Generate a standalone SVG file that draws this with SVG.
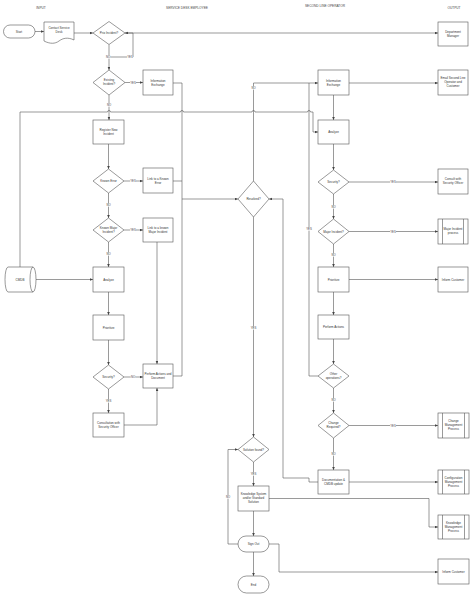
<svg xmlns="http://www.w3.org/2000/svg" width="470" height="614" viewBox="0 0 470 614">
<style>
.s{fill:#fff;stroke:#555;stroke-width:0.6}
.c{fill:none;stroke:#555;stroke-width:0.6}
.t{font-family:"Liberation Sans",Arial,sans-serif;font-size:3px;fill:#333;text-anchor:middle}
.l{font-family:"Liberation Sans",Arial,sans-serif;font-size:2.8px;fill:#444;text-anchor:middle}
.b{fill:#fff}
.h{font-family:"Liberation Sans",Arial,sans-serif;font-size:3.2px;fill:#444;text-anchor:middle}
</style>
<defs>
<marker id="a" markerUnits="userSpaceOnUse" markerWidth="3" markerHeight="3" refX="3" refY="1.3" orient="auto">
<path d="M0,0 L3,1.3 L0,2.6 Z" fill="#444"/>
</marker>
</defs>
<rect width="470" height="614" fill="#fff"/>
<text class="h" x="41" y="9">INPUT</text>
<text class="h" x="187" y="9">SERVICE DESK EMPLOYEE</text>
<text class="h" x="325" y="7">SECOND LINE OPERATOR</text>
<text class="h" x="454" y="9">OUTPUT</text>

<g id="connectors" class="c" marker-end="url(#a)">
<path d="M35,31.5 H44"/>
<path d="M74,33 H93"/>
<path d="M125,33 H438"/>
<path d="M109,57 H133 V33 H125"/>
<path d="M109,44.5 V70"/>
<path d="M125,82.5 H143"/>
<path d="M109,95 V120"/>
<path d="M108.5,144 V169"/>
<path d="M124,181 H143"/>
<path d="M108.5,193 V218"/>
<path d="M124,230 H143"/>
<path d="M108.5,242 V267"/>
<path d="M36,279.5 H93"/>
<path d="M108.5,292 V315"/>
<path d="M108.5,340 V365"/>
<path d="M124,377 H143"/>
<path d="M108.5,389 V413"/>
<path d="M124,425 H157 V388"/>
<path d="M157,242 V364"/>
<path d="M173,83 H182 V199 H238"/>
<path d="M173,181 H182" marker-end="none"/>
<path d="M173,376 H182 V199" marker-end="none"/>
<path d="M20,267 V112 H107.5 A1.5,1.5 0 0 1 110.5,112 H180.5 A1.5,1.5 0 0 1 183.5,112 H252 A1.5,1.5 0 0 1 255,112 H307.5 A1.5,1.5 0 0 1 310.5,112 H313 V132 H318"/>
<path d="M253.5,181 V83 H318"/>
<path d="M318,376 H309 V83" marker-end="none"/>
<path d="M349,83 H438"/>
<path d="M333.5,95 V120"/>
<path d="M333.5,144 V170"/>
<path d="M349,182 H438"/>
<path d="M333.5,194 V219"/>
<path d="M349,231.5 H438"/>
<path d="M333.5,244 V267"/>
<path d="M349,279.5 H438"/>
<path d="M333.5,292 V315"/>
<path d="M333.5,339 V364"/>
<path d="M333.5,388 V413"/>
<path d="M349,425.5 H438"/>
<path d="M333.5,438 V470"/>
<path d="M349,482 H438"/>
<path d="M318,482 H309 V478 H283 V199 H269"/>
<path d="M253.5,217 V437"/>
<path d="M253.5,462 V486"/>
<path d="M238,544 H228 V449.5 H238"/>
<path d="M269,498.5 H429 V527 H438"/>
<path d="M253.5,511 V536"/>
<path d="M269,544 H279 V572 H438"/>
<path d="M253.5,552 V576"/>
</g>
<g id="labels">
<rect class="b" x="105.7" y="55.4" width="4.6" height="3.2"/><text class="l" x="108" y="58">NO</text>
<rect class="b" x="127" y="55.4" width="6" height="3.2"/><text class="l" x="130" y="58">YES</text>
<rect class="b" x="130" y="80.9" width="6" height="3.2"/><text class="l" x="133" y="83.5">YES</text>
<rect class="b" x="106.7" y="103.4" width="4.6" height="3.2"/><text class="l" x="109" y="106">NO</text>
<rect class="b" x="130" y="179.4" width="6" height="3.2"/><text class="l" x="133" y="182">YES</text>
<rect class="b" x="106.2" y="203.4" width="4.6" height="3.2"/><text class="l" x="108.5" y="206">NO</text>
<rect class="b" x="130" y="228.4" width="6" height="3.2"/><text class="l" x="133" y="231">YES</text>
<rect class="b" x="106.2" y="252.4" width="4.6" height="3.2"/><text class="l" x="108.5" y="255">NO</text>
<rect class="b" x="130.7" y="375.4" width="4.6" height="3.2"/><text class="l" x="133" y="378">NO</text>
<rect class="b" x="105.5" y="399.4" width="6" height="3.2"/><text class="l" x="108.5" y="402">YES</text>
<rect class="b" x="251.2" y="86.4" width="4.6" height="3.2"/><text class="l" x="253.5" y="89">NO</text>
<rect class="b" x="306" y="227.4" width="6" height="3.2"/><text class="l" x="309" y="230">YES</text>
<rect class="b" x="390" y="180.4" width="6" height="3.2"/><text class="l" x="393" y="183">YES</text>
<rect class="b" x="331.2" y="205.4" width="4.6" height="3.2"/><text class="l" x="333.5" y="208">NO</text>
<rect class="b" x="390" y="229.9" width="6" height="3.2"/><text class="l" x="393" y="232.5">YES</text>
<rect class="b" x="331.2" y="253.4" width="4.6" height="3.2"/><text class="l" x="333.5" y="256">NO</text>
<rect class="b" x="331.2" y="398.4" width="4.6" height="3.2"/><text class="l" x="333.5" y="401">NO</text>
<rect class="b" x="390" y="423.9" width="6" height="3.2"/><text class="l" x="393" y="426.5">YES</text>
<rect class="b" x="331.2" y="452.4" width="4.6" height="3.2"/><text class="l" x="333.5" y="455">NO</text>
<rect class="b" x="250.5" y="326.4" width="6" height="3.2"/><text class="l" x="253.5" y="329">YES</text>
<rect class="b" x="250.5" y="472.4" width="6" height="3.2"/><text class="l" x="253.5" y="475">YES</text>
<rect class="b" x="225.7" y="495.4" width="4.6" height="3.2"/><text class="l" x="228" y="498">NO</text>
</g>

<g id="start"><rect class="s" x="3.5" y="25" width="31.5" height="13" rx="6.5"/><text class="t" x="19" y="32.5">Start</text></g>
<g id="contact"><path class="s" d="M44,22 H74 V40 C68,37 63,38 59,41 C55,44 50,44 44,41 Z"/><text class="t" x="59" y="29">Contact Service</text><text class="t" x="59" y="33">Desk</text></g>
<g id="prio"><polygon class="s" points="109,21.5 125,33 109,44.5 93,33"/><text class="t" x="109" y="34">Prio Incident?</text></g>
<g id="existing"><polygon class="s" points="109,70 125,82.5 109,95 93,82.5"/><text class="t" x="109" y="81">Existing</text><text class="t" x="109" y="85">Incident?</text></g>
<g id="infoSDE"><rect class="s" x="143" y="70" width="30" height="25"/><text class="t" x="158" y="81.5">Information</text><text class="t" x="158" y="85.5">Exchange</text></g>
<g id="register"><rect class="s" x="93" y="120" width="31" height="24"/><text class="t" x="108.5" y="130.5">Register New</text><text class="t" x="108.5" y="134.5">Incident</text></g>
<g id="knownError"><polygon class="s" points="108.5,169 124,181 108.5,193 93,181"/><text class="t" x="108.5" y="182">Known Error</text></g>
<g id="linkKE"><rect class="s" x="143" y="168" width="30" height="25"/><text class="t" x="158" y="179.5">Link to a Known</text><text class="t" x="158" y="183.5">Error</text></g>
<g id="knownMajor"><polygon class="s" points="108.5,218 124,230 108.5,242 93,230"/><text class="t" x="108.5" y="228.5">Known Major</text><text class="t" x="108.5" y="232.5">Incident?</text></g>
<g id="linkKMI"><rect class="s" x="143" y="218" width="30" height="24"/><text class="t" x="158" y="228.5">Link to a known</text><text class="t" x="158" y="232.5">Major Incident</text></g>
<g id="cmdb"><path class="s" d="M8,267 H33 A3,12.5 0 0 1 33,292 H8 A3,12.5 0 0 1 8,267 Z"/><path class="c" d="M33,267 A3,12.5 0 0 0 33,292"/><text class="t" x="20" y="280.5">CMDB</text></g>
<g id="analyzeSDE"><rect class="s" x="93" y="267" width="31" height="25"/><text class="t" x="108.5" y="280.5">Analyze</text></g>
<g id="prioritizeSDE"><rect class="s" x="93" y="315" width="31" height="25"/><text class="t" x="108.5" y="328.5">Prioritize</text></g>
<g id="securitySDE"><polygon class="s" points="108.5,365 124,377 108.5,389 93,377"/><text class="t" x="108.5" y="378">Security?</text></g>
<g id="performDoc"><rect class="s" x="143" y="364" width="30" height="24"/><text class="t" x="158" y="374.5">Perform Actions and</text><text class="t" x="158" y="378.5">Document</text></g>
<g id="consultation"><rect class="s" x="93" y="413" width="31" height="24"/><text class="t" x="108.5" y="423.5">Consultation with</text><text class="t" x="108.5" y="427.5">Security Officer</text></g>
<g id="resolved"><polygon class="s" points="253.5,181 269,199 253.5,217 238,199"/><text class="t" x="253.5" y="200">Resolved?</text></g>
<g id="solution"><polygon class="s" points="253.5,437 269,449.5 253.5,462 238,449.5"/><text class="t" x="253.5" y="450.5">Solution found?</text></g>
<g id="knowledge"><rect class="s" x="238" y="486" width="31" height="25"/><text class="t" x="253.5" y="495">Knowledge System</text><text class="t" x="253.5" y="499">and/or Standard</text><text class="t" x="253.5" y="503">Solution</text></g>
<g id="signout"><rect class="s" x="238" y="536" width="31" height="16" rx="8"/><text class="t" x="253.5" y="545">Sign Out</text></g>
<g id="end"><rect class="s" x="238" y="576" width="31" height="17" rx="8.5"/><text class="t" x="253.5" y="585.5">End</text></g>

<g id="infoSLO"><rect class="s" x="318" y="70" width="31" height="25"/><text class="t" x="333.5" y="81.5">Information</text><text class="t" x="333.5" y="85.5">Exchange</text></g>
<g id="analyzeSLO"><rect class="s" x="318" y="120" width="31" height="24"/><text class="t" x="333.5" y="133">Analyze</text></g>
<g id="securitySLO"><polygon class="s" points="333.5,170 349,182 333.5,194 318,182"/><text class="t" x="333.5" y="183">Security?</text></g>
<g id="majorSLO"><polygon class="s" points="333.5,219 349,231.5 333.5,244 318,231.5"/><text class="t" x="333.5" y="232.5">Major Incident?</text></g>
<g id="prioritizeSLO"><rect class="s" x="318" y="267" width="31" height="25"/><text class="t" x="333.5" y="280.5">Prioritize</text></g>
<g id="performSLO"><rect class="s" x="318" y="315" width="31" height="24"/><text class="t" x="333.5" y="328">Perform Actions</text></g>
<g id="otherOps"><polygon class="s" points="333.5,364 349,376 333.5,388 318,376"/><text class="t" x="333.5" y="374.5">Other</text><text class="t" x="333.5" y="378.5">operations?</text></g>
<g id="changeReq"><polygon class="s" points="333.5,413 349,425.5 333.5,438 318,425.5"/><text class="t" x="333.5" y="424">Change</text><text class="t" x="333.5" y="428">Required?</text></g>
<g id="docCMDB"><rect class="s" x="318" y="470" width="31" height="24"/><text class="t" x="333.5" y="480.5">Documentation &amp;</text><text class="t" x="333.5" y="484.5">CMDB update</text></g>

<g id="deptMgr"><rect class="s" x="438" y="22" width="30" height="24"/><text class="t" x="453" y="32.5">Department</text><text class="t" x="453" y="36.5">Manager</text></g>
<g id="email"><rect class="s" x="438" y="70" width="30" height="25"/><text class="t" x="453" y="78.5">Email Second Line</text><text class="t" x="453" y="82.5">Operator and</text><text class="t" x="453" y="86.5">Customer</text></g>
<g id="consultSO"><rect class="s" x="438" y="169" width="30" height="25"/><text class="t" x="453" y="180">Consult with</text><text class="t" x="453" y="184">Security Officer</text></g>
<g id="majorProc"><rect class="s" x="438" y="219" width="30" height="25"/><path class="c" d="M442.5,219 V244 M463.5,219 V244"/><text class="t" x="453" y="230">Major Incident</text><text class="t" x="453" y="234">process</text></g>
<g id="inform1"><rect class="s" x="438" y="267" width="30" height="25"/><text class="t" x="453" y="280.5">Inform Customer</text></g>
<g id="changeMgmt"><rect class="s" x="438" y="413" width="31" height="25"/><path class="c" d="M442.5,413 V438 M464.5,413 V438"/><text class="t" x="453.5" y="422">Change</text><text class="t" x="453.5" y="426">Management</text><text class="t" x="453.5" y="430">Process</text></g>
<g id="configMgmt"><rect class="s" x="438" y="470" width="31" height="24"/><path class="c" d="M442.5,470 V494 M464.5,470 V494"/><text class="t" x="453.5" y="478.5">Configuration</text><text class="t" x="453.5" y="482.5">Management</text><text class="t" x="453.5" y="486.5">Process</text></g>
<g id="knowMgmt"><rect class="s" x="438" y="515" width="31" height="24"/><path class="c" d="M442.5,515 V539 M464.5,515 V539"/><text class="t" x="453.5" y="523.5">Knowledge</text><text class="t" x="453.5" y="527.5">Management</text><text class="t" x="453.5" y="531.5">Process</text></g>
<g id="inform2"><rect class="s" x="438" y="559" width="31" height="25"/><text class="t" x="453.5" y="572.5">Inform Customer</text></g>
</svg>
